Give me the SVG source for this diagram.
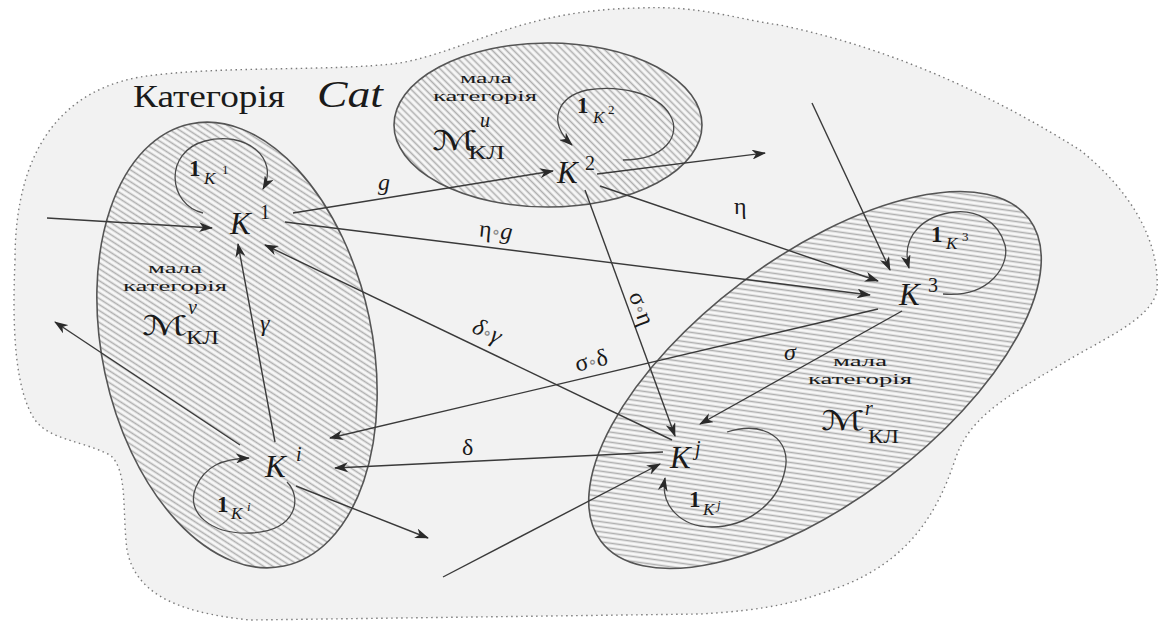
<svg xmlns="http://www.w3.org/2000/svg" width="1159" height="621" viewBox="0 0 1159 621">
<defs>
<pattern id="hatch" patternUnits="userSpaceOnUse" width="5" height="5" patternTransform="rotate(-45)">
<rect width="5" height="5" fill="#f7f7f7"/>
<line x1="2.5" y1="0" x2="2.5" y2="5" stroke="#afafaf" stroke-width="1.6"/>
</pattern>
<marker id="ah" viewBox="0 0 14 10" refX="13" refY="5" markerWidth="14" markerHeight="10" markerUnits="userSpaceOnUse" orient="auto">
<path d="M0,0 L14,5 L0,10 L4,5 Z" fill="#2a2a2a"/>
</marker>
<style>
.blob{fill:#f2f2f2;stroke:#7a7a7a;stroke-width:1.4;stroke-dasharray:1.5 3.5}
.cat{fill:url(#hatch);stroke:#555;stroke-width:1.6}
.c{fill:none;stroke:#3a3a3a;stroke-width:1.4;marker-end:url(#ah)}
.lp{fill:none;stroke:#4a4a4a;stroke-width:1.3;marker-end:url(#ah)}
text{fill:#1a1a1a}
.k{font-style:italic;font-size:31px}
.sup{font-size:20px}
.one{font-weight:bold;font-size:23px}
.ik{font-style:italic;font-size:17px}
.is{font-size:13px}
.sm{font-size:15px;text-anchor:middle}
.kl{font-size:19px}
.lab{font-size:24px}
.it{font-style:italic}
.op{fill:#8a8a8a;font-size:18px}
.m{font-family:"DejaVu Serif","DejaVu Sans",serif;font-size:27px}
</style>
</defs>

<path class="blob" d="M 15,260 C 15,180 40,95 140,77 C 220,65 330,72 400,63 C 470,50 520,10 640,8 C 700,5 740,20 780,25 C 900,50 1000,100 1080,150 C 1130,190 1160,240 1157,290 C 1152,320 1100,340 1060,365 C 1000,400 968,420 955,460 C 935,520 905,560 845,585 C 800,602 770,610 700,614 L 250,620 C 170,612 135,590 127,550 C 122,510 128,470 110,455 C 80,440 50,440 35,420 C 15,390 12,330 15,260 Z"/>

<g font-family="Liberation Serif, DejaVu Serif, serif">
<g id="title">
<text x="133" y="107" font-size="31" textLength="152" lengthAdjust="spacingAndGlyphs">Категорія</text>
<text x="317" y="107" font-size="37" font-style="italic" textLength="66" lengthAdjust="spacingAndGlyphs">Cat</text>
</g>

<g id="cat-v">
<ellipse class="cat" cx="237" cy="345" rx="135" ry="226" transform="rotate(-12 237 345)"/>
<text class="sm" x="175" y="273" textLength="54" lengthAdjust="spacingAndGlyphs">мала</text>
<text class="sm" x="175" y="291" textLength="104" lengthAdjust="spacingAndGlyphs">категорія</text>
<text class="m" x="142" y="335" textLength="46" lengthAdjust="spacingAndGlyphs">ℳ</text>
<text class="sup it" x="188" y="314">v</text>
<text class="kl" x="186" y="344" textLength="33" lengthAdjust="spacingAndGlyphs">КЛ</text>
</g>

<g id="cat-u">
<ellipse class="cat" cx="548" cy="125" rx="154" ry="82"/>
<text class="sm" x="486" y="83" textLength="52" lengthAdjust="spacingAndGlyphs">мала</text>
<text class="sm" x="485" y="101" textLength="104" lengthAdjust="spacingAndGlyphs">категорія</text>
<text class="m" x="432" y="150" textLength="46" lengthAdjust="spacingAndGlyphs">ℳ</text>
<text class="sup it" x="480" y="127">u</text>
<text class="kl" x="468" y="159" textLength="37" lengthAdjust="spacingAndGlyphs">КЛ</text>
</g>

<g id="cat-r">
<ellipse class="cat" cx="815" cy="380" rx="268" ry="122" transform="rotate(-37 815 380)"/>
<text class="sm" x="860" y="366" textLength="54" lengthAdjust="spacingAndGlyphs">мала</text>
<text class="sm" x="860" y="384" textLength="104" lengthAdjust="spacingAndGlyphs">категорія</text>
<text class="m" x="821" y="430" textLength="44" lengthAdjust="spacingAndGlyphs">ℳ</text>
<text class="sup it" x="865" y="415">r</text>
<text class="kl" x="868" y="443" textLength="31" lengthAdjust="spacingAndGlyphs">КЛ</text>
</g>

<g id="connectors">
<line class="c" x1="47" y1="218" x2="212" y2="228"/>
<line class="c" x1="293" y1="213" x2="553" y2="171"/>
<line class="c" x1="597" y1="174" x2="765" y2="153"/>
<line class="c" x1="600" y1="186" x2="878" y2="281"/>
<line class="c" x1="285" y1="222" x2="870" y2="295"/>
<line class="c" x1="812" y1="103" x2="890" y2="270"/>
<line class="c" x1="585" y1="190" x2="675" y2="436"/>
<line class="c" x1="672" y1="440" x2="265" y2="245"/>
<line class="c" x1="878" y1="309" x2="330" y2="438"/>
<line class="c" x1="902" y1="311" x2="700" y2="424"/>
<line class="c" x1="663" y1="452" x2="335" y2="468"/>
<line class="c" x1="275" y1="442" x2="238" y2="244"/>
<line class="c" x1="296" y1="486" x2="428" y2="538"/>
<line class="c" x1="240" y1="445" x2="55" y2="322"/>
<line class="c" x1="443" y1="577" x2="660" y2="464"/>
<path class="lp" d="M 203,213 C 168,205 163,152 205,141 C 245,130 280,158 263,189"/>
<path class="lp" d="M 623,160 C 665,160 682,135 670,115 C 657,92 617,85 587,90 C 557,97 547,122 572,145"/>
<path class="lp" d="M 943,294 C 990,298 1010,265 1005,245 C 998,220 975,210 955,212 C 925,215 900,235 909,268"/>
<path class="lp" d="M 287,482 C 302,497 298,530 252,533 C 210,535 185,512 196,487 C 205,466 222,459 249,458"/>
<path class="lp" d="M 727,432 C 765,420 792,440 785,470 C 778,505 745,527 712,527 C 680,527 660,505 665,478"/>
</g>

<g id="labels">
<text class="lab it" x="378" y="190" font-size="29">g</text>
<text class="lab" x="734" y="214">η</text>
<text class="lab" transform="translate(495,238) rotate(6)" text-anchor="middle"><tspan>η</tspan><tspan class="op">∘</tspan><tspan class="it">g</tspan></text>
<text class="lab" transform="translate(484,338) rotate(25.6)" text-anchor="middle"><tspan class="it">δ</tspan><tspan class="op">∘</tspan><tspan class="it">γ</tspan></text>
<text class="lab" transform="translate(593,368) rotate(-13.5)" text-anchor="middle"><tspan>σ</tspan><tspan class="op">∘</tspan><tspan>δ</tspan></text>
<text class="lab" transform="translate(640,309) rotate(69.6)" text-anchor="middle" y="6"><tspan>σ</tspan><tspan class="op">∘</tspan><tspan>η</tspan></text>
<text class="lab it" x="784" y="360">σ</text>
<text class="lab" x="462" y="455">δ</text>
<text class="lab it" x="260" y="331">γ</text>
</g>

<g id="node-K1">
<text class="k" x="230" y="234">K</text><text class="sup" x="260" y="219">1</text>
<text class="one" x="189" y="176">1</text><text class="ik" x="204" y="184">K</text><text class="is" x="222" y="174">1</text>
</g>
<g id="node-K2">
<text class="k" x="557" y="183">K</text><text class="sup" x="585" y="170">2</text>
<text class="one" x="577" y="113">1</text><text class="ik" x="593" y="123">K</text><text class="is" x="608" y="114">2</text>
</g>
<g id="node-K3">
<text class="k" x="899" y="305">K</text><text class="sup" x="928" y="292">3</text>
<text class="one" x="931" y="242">1</text><text class="ik" x="946" y="249">K</text><text class="is" x="962" y="241">3</text>
</g>
<g id="node-Ki">
<text class="k" x="265" y="477">K</text><text class="sup it" x="296" y="461">i</text>
<text class="one" x="217" y="512">1</text><text class="ik" x="231" y="519">K</text><text class="is it" x="247" y="511">i</text>
</g>
<g id="node-Kj">
<text class="k" x="670" y="468">K</text><text class="sup it" x="695" y="455">j</text>
<text class="one" x="689" y="507">1</text><text class="ik" x="703" y="515">K</text><text class="is it" x="717" y="509">j</text>
</g>
</g>
</svg>
